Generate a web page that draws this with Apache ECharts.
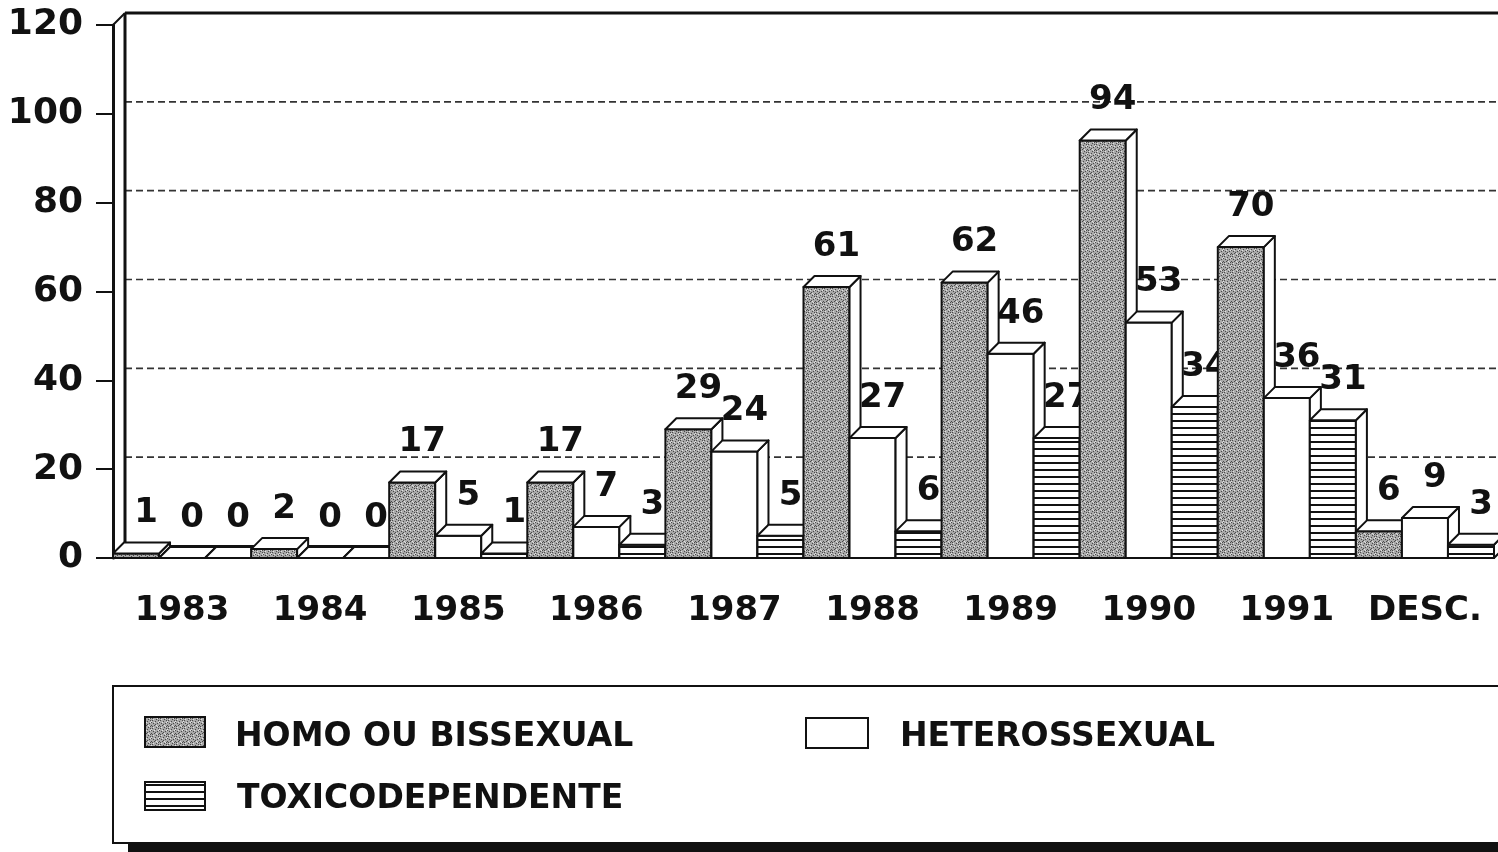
<!DOCTYPE html>
<html><head><meta charset="utf-8">
<script src="https://cdn.jsdelivr.net/npm/echarts/dist/echarts.min.js"></script>
<style>html,body{margin:0;padding:0;background:#fff}#c{width:1498px;height:852px}</style>
</head><body><div id="c"></div>
<script>
// ---- data ----
const categories = ['1983','1984','1985','1986','1987','1988','1989','1990','1991','DESC.'];
const seriesNames = ['HOMO OU BISSEXUAL','HETEROSSEXUAL','TOXICODEPENDENTE'];
const homo   = [1, 2, 17, 17, 29, 61, 62, 94, 70, 6];
const hetero = [0, 0, 5, 7, 24, 27, 46, 53, 36, 9];
const toxi   = [0, 0, 1, 3, 5, 6, 27, 34, 31, 3];
const yTicks = [0, 20, 40, 60, 80, 100, 120];

// ---- styles ----
const FAM = '"DejaVu Sans", sans-serif';
const D = 11;       // 3D depth of bars
const W = 12;       // depth of back wall
const INK = '#111';

function makeStipple(){
  const c = document.createElement('canvas'); c.width = 8; c.height = 8;
  const g = c.getContext('2d');
  g.fillStyle = '#a9a9a9'; g.fillRect(0,0,8,8);
  g.fillStyle = '#4a4a4a';
  [[0,0],[3,1],[6,0],[1,3],[5,3],[2,5],[7,5],[0,6],[4,7],[6,6],[3,4],[7,2]].forEach(p=>g.fillRect(p[0],p[1],1,1));
  g.fillStyle = '#e2e2e2';
  [[2,2],[6,2],[4,5],[1,7],[7,1],[5,6]].forEach(p=>g.fillRect(p[0],p[1],1,1));
  return c;
}
function makeLines(){
  const c = document.createElement('canvas'); c.width = 8; c.height = 7;
  const g = c.getContext('2d');
  g.fillStyle = '#fff'; g.fillRect(0,0,8,7);
  g.fillStyle = INK; g.fillRect(0,0,8,2);
  return c;
}
const fills = [
  {image: makeStipple(), repeat: 'repeat'},
  '#ffffff',
  {image: makeLines(), repeat: 'repeat'}
];

const allSeries = [homo, hetero, toxi];
const barData = [];
categories.forEach((c, i) => {
  allSeries.forEach((arr, s) => barData.push([i, s, arr[i]]));
});

function renderBar(params, api){
  const cat = api.value(0), s = api.value(1), v = api.value(2);
  const top = api.coord([cat, v]);
  const base = api.coord([cat, 0]);
  const cw = api.size([1, 0])[0];
  const bw = cw / 3;
  const x0 = top[0] - cw / 2 + s * bw, x1 = x0 + bw;
  const yt = top[1], yb = base[1];
  const st = {stroke: INK, lineWidth: 2, lineJoin: 'round'};
  return {
    type: 'group',
    children: [
      {type: 'rect', shape: {x: x0, y: yt, width: bw, height: yb - yt}, style: Object.assign({fill: fills[s]}, st)},
      {type: 'polygon', shape: {points: [[x1, yt], [x1 + D, yt - D], [x1 + D, yb - D], [x1, yb]]}, style: Object.assign({fill: '#fff'}, st)},
      {type: 'polygon', shape: {points: [[x0, yt], [x0 + D, yt - D], [x1 + D, yt - D], [x1, yt]]}, style: Object.assign({fill: '#fff'}, st)},
      {type: 'text', x: x0 + bw / 2 + 10, y: yt - 23,
        style: {text: String(v), fill: INK, font: 'bold 34px ' + FAM, align: 'center', verticalAlign: 'bottom'}}
    ]
  };
}

function renderWall(params, api){
  const v = api.value(1);
  const p = api.coord([0, v]);
  const cs = params.coordSys;
  const L = cs.x, R = 1498;
  const y = p[1] - W;
  if (v === 120) {
    const yb = api.coord([0, 0])[1] - W;
    return {type: 'group', children: [
      {type: 'line', shape: {x1: L + W, y1: y, x2: R, y2: y}, style: {stroke: INK, lineWidth: 3}},
      {type: 'line', shape: {x1: L + W, y1: y, x2: L + W, y2: yb}, style: {stroke: INK, lineWidth: 3}},
      {type: 'line', shape: {x1: L, y1: p[1], x2: L + W, y2: y}, style: {stroke: INK, lineWidth: 2}}
    ]};
  }
  if (v === 0) {
    return {type: 'line', shape: {x1: L + W, y1: y, x2: R, y2: y}, style: {stroke: INK, lineWidth: 2}};
  }
  return {type: 'line', shape: {x1: L + W, y1: y, x2: R, y2: y}, style: {stroke: '#333', lineWidth: 1.6, lineDash: [7, 4]}};
}

const legendFont = 'bold 33px ' + FAM;
const chart = echarts.init(document.getElementById('c'), null, {renderer: 'canvas'});
chart.setOption({
  animation: false,
  backgroundColor: '#fff',
  grid: {left: 113, right: 4, top: 25, bottom: 294, containLabel: false},
  xAxis: {
    type: 'category', data: categories, boundaryGap: true,
    axisLine: {lineStyle: {color: INK, width: 2}},
    axisTick: {alignWithLabel: true, interval: 0, length: 17, lineStyle: {color: INK, width: 2}},
    axisLabel: {interval: 0, color: INK, fontFamily: FAM, fontWeight: 'bold', fontSize: 34, margin: 36}
  },
  yAxis: {
    type: 'value', min: 0, max: 120, interval: 20,
    axisLine: {show: true, lineStyle: {color: INK, width: 3}},
    axisTick: {show: true, length: 17, lineStyle: {color: INK, width: 2}},
    axisLabel: {color: INK, fontFamily: FAM, fontWeight: 'bold', fontSize: 36, margin: 30},
    splitLine: {show: false}
  },
  series: [
    {type: 'custom', name: 'wall', z: 1, renderItem: renderWall,
      data: yTicks.map(v => [0, v]), encode: {x: 0, y: 1}, silent: true},
    {type: 'custom', name: 'bars', z: 3, renderItem: renderBar,
      data: barData, encode: {x: 0, y: 2}, silent: true}
  ],
  graphic: [
    {type: 'rect', z: 10, shape: {x: 113, y: 686, width: 1400, height: 157}, style: {fill: '#fff', stroke: INK, lineWidth: 2}},
    {type: 'rect', z: 11, shape: {x: 128, y: 842, width: 1370, height: 10}, style: {fill: INK}},
    {type: 'rect', z: 11, shape: {x: 145, y: 717, width: 60, height: 30}, style: {fill: fills[0], stroke: INK, lineWidth: 2}},
    {type: 'text', z: 11, x: 235, y: 737, style: {text: seriesNames[0], font: legendFont, fill: INK, verticalAlign: 'middle'}},
    {type: 'rect', z: 11, shape: {x: 806, y: 718, width: 62, height: 30}, style: {fill: fills[1], stroke: INK, lineWidth: 2}},
    {type: 'text', z: 11, x: 900, y: 737, style: {text: seriesNames[1], font: legendFont, fill: INK, verticalAlign: 'middle'}},
    {type: 'rect', z: 11, shape: {x: 145, y: 782, width: 60, height: 28}, style: {fill: fills[2], stroke: INK, lineWidth: 2}},
    {type: 'text', z: 11, x: 237, y: 799, style: {text: seriesNames[2], font: legendFont, fill: INK, verticalAlign: 'middle'}}
  ]
});
</script>
</body></html>
